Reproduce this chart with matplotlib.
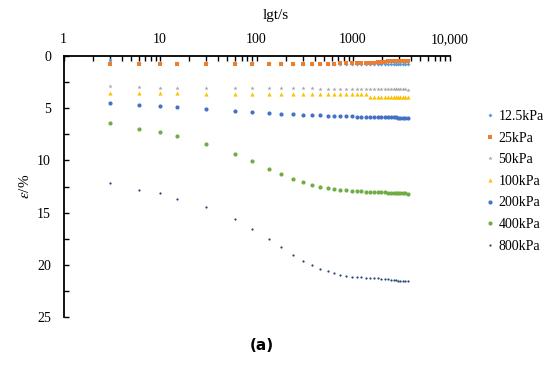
import matplotlib
matplotlib.use("Agg")
import matplotlib.pyplot as plt
from matplotlib.ticker import FixedLocator, FixedFormatter, MultipleLocator, LogLocator, NullFormatter

plt.rcParams['font.family'] = ['Liberation Serif', 'DejaVu Serif']
plt.rcParams['mathtext.fontset'] = 'stix'

times = [3, 6, 10, 15, 30, 60, 90, 135, 180, 240, 300, 380, 460, 550, 640, 740,
         850, 970, 1090, 1220, 1350, 1500, 1650, 1800, 1970, 2130, 2310, 2460,
         2630, 2770, 2930, 3100, 3280, 3480, 3700]

labels = ['12.5kPa', '25kPa', '50kPa', '100kPa', '200kPa', '400kPa', '800kPa']

s12_5 = [0.42, 0.66, 0.68, 0.69, 0.70, 0.70, 0.71, 0.71, 0.71, 0.72, 0.72, 0.72,
         0.72, 0.72, 0.73, 0.73, 0.73, 0.73, 0.74, 0.74, 0.74, 0.75, 0.75, 0.76,
         0.76, 0.77, 0.77, 0.78, 0.78, 0.79, 0.79, 0.80, 0.80, 0.81, 0.81]
s25 = [0.72, 0.72, 0.72, 0.72, 0.72, 0.72, 0.72, 0.72, 0.72, 0.72, 0.72, 0.72,
       0.72, 0.72, 0.72, 0.71, 0.71, 0.70, 0.70, 0.69, 0.68, 0.66, 0.63, 0.60,
       0.57, 0.54, 0.52, 0.50, 0.49, 0.48, 0.47, 0.46, 0.46, 0.45, 0.45]
s50 = [2.90, 3.00, 3.02, 3.03, 3.05, 3.07, 3.08, 3.09, 3.10, 3.10, 3.11, 3.11,
       3.12, 3.12, 3.13, 3.13, 3.14, 3.14, 3.15, 3.15, 3.16, 3.16, 3.16, 3.17,
       3.17, 3.18, 3.18, 3.18, 3.19, 3.19, 3.19, 3.20, 3.20, 3.20, 3.21]
s100 = [3.55, 3.57, 3.58, 3.58, 3.60, 3.60, 3.61, 3.61, 3.62, 3.62, 3.62, 3.63,
        3.63, 3.63, 3.64, 3.64, 3.64, 3.65, 3.65, 3.65, 3.66, 3.88, 3.89, 3.89,
        3.90, 3.90, 3.90, 3.91, 3.91, 3.91, 3.92, 3.92, 3.92, 3.93, 3.93]
s200 = [4.50, 4.66, 4.78, 4.86, 5.08, 5.27, 5.34, 5.45, 5.52, 5.57, 5.62, 5.66,
        5.69, 5.72, 5.74, 5.76, 5.78, 5.79, 5.80, 5.81, 5.82, 5.83, 5.84, 5.85,
        5.86, 5.86, 5.87, 5.88, 5.88, 5.89, 5.90, 5.90, 5.91, 5.91, 5.92]
s400 = [6.45, 7.02, 7.28, 7.69, 8.46, 9.42, 10.09, 10.82, 11.30, 11.78, 12.07,
        12.36, 12.52, 12.64, 12.72, 12.80, 12.86, 12.90, 12.94, 12.97, 13.00,
        13.02, 13.04, 13.05, 13.06, 13.07, 13.08, 13.10, 13.11, 13.12, 13.14,
        13.15, 13.16, 13.17, 13.18]
s800 = [12.15, 12.80, 13.15, 13.69, 14.45, 15.65, 16.55, 17.53, 18.27, 19.06,
        19.60, 20.05, 20.40, 20.62, 20.80, 20.98, 21.07, 21.13, 21.17, 21.20,
        21.23, 21.26, 21.28, 21.30, 21.33, 21.36, 21.39, 21.42, 21.46, 21.49,
        21.51, 21.53, 21.54, 21.55, 21.56]

series = [s12_5, s25, s50, s100, s200, s400, s800]
colors = ['#5B9BD5', '#ED7D31', '#A5A5A5', '#FFC000', '#4472C4', '#70AD47', '#264478']
markers = ['D', 's', '*', '^', 'o', 'o', 'o']
msizes = [2.0, 3.0, 3.2, 3.0, 3.0, 3.0, 1.6]

fig = plt.figure(figsize=(5.5, 3.65), dpi=100)
ax = fig.add_axes([63.5 / 550, 1 - 317 / 365, (449.5 - 63.5) / 550, (317 - 56) / 365])

for vals, c, m, ms, lab in zip(series, colors, markers, msizes, labels):
    ax.plot(times, vals, linestyle='none', marker=m, markersize=ms, color=c,
            markeredgewidth=0, label=lab)

ax.set_xscale('log')
ax.set_xlim(1, 10000)
ax.set_ylim(25, 0)

ax.xaxis.set_ticks_position('top')
ax.xaxis.set_label_position('top')
ax.xaxis.set_major_locator(FixedLocator([1, 10, 100, 1000, 10000]))
ax.xaxis.set_major_formatter(FixedFormatter(['1', '10', '100', '1000', '10,000']))
ax.xaxis.set_minor_locator(LogLocator(base=10, subs=range(2, 10)))
ax.xaxis.set_minor_formatter(NullFormatter())
ax.yaxis.set_major_locator(MultipleLocator(5))
ax.yaxis.set_minor_locator(MultipleLocator(2.5))

ax.tick_params(axis='x', which='both', direction='in', length=3.5, width=1.0,
               labelsize=10, pad=7)
ax.tick_params(axis='y', which='both', direction='in', length=3.5, width=1.0,
               labelsize=10, pad=9)
for sp in ['right', 'bottom']:
    ax.spines[sp].set_visible(False)
for sp in ['left', 'top']:
    ax.spines[sp].set_linewidth(1.3)

ax.set_xlabel('lgt/s', fontsize=11, labelpad=10)
ax.xaxis.set_label_coords(0.55, 1.0)
ax.xaxis.label.set_verticalalignment('bottom')
ax.set_ylabel(r'$\varepsilon$/%', fontsize=11, labelpad=4)

fig.texts  # no-op
ax.xaxis.label.set_position((0.55, 1.0))
ax.xaxis.set_label_coords(0.55, 1.13)

leg = fig.legend(loc='upper left', bbox_to_anchor=(479 / 550, 1 - 103 / 365),
                 frameon=False, fontsize=10, handlelength=0.6, handletextpad=0.3,
                 labelspacing=0.62, borderpad=0, markerscale=1.0)

fig.text(262 / 550, 1 - 346 / 365, '(a)', fontsize=11, ha='center', va='center',
         family=['DejaVu Sans'], fontweight='bold')

fig.savefig('out.png', dpi=100)
